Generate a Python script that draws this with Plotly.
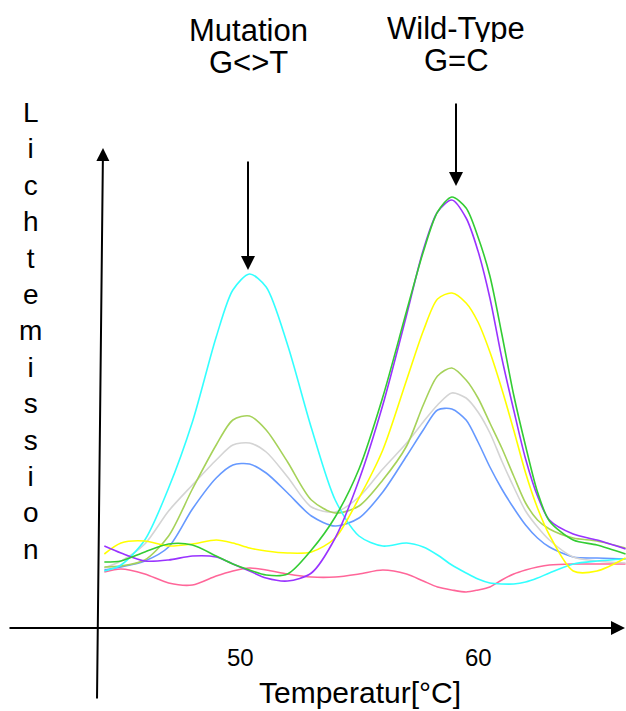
import plotly.graph_objects as go

# Temperature grid (°C)
temperature = [44.3, 45, 46, 47, 48, 49, 49.7, 50.4, 51.1, 52, 53, 54, 55, 56, 57,
               57.7, 58.3, 58.9, 59.5, 60, 60.5, 61, 61.5, 62, 62.5, 63, 64, 65, 66.2]

# Light emission (arbitrary units) per sample
cyan = [57, 63, 88, 140, 206, 291, 338, 354, 341, 283, 200, 128, 92, 82, 85,
        81, 73, 63, 55, 49, 45, 44, 44, 46, 50, 55, 64, 67, 69]
olive = [61, 62, 68, 92, 139, 183, 208, 212, 198, 166, 128, 115, 122, 148, 182,
         223, 252, 260, 248, 230, 205, 180, 152, 125, 108, 99, 90, 87, 80]
gray = [60, 67, 84, 117, 143, 168, 183, 185, 176, 151, 121, 116, 131, 159, 185,
        206, 223, 235, 230, 216, 195, 167, 141, 117, 101, 88, 71, 67, 65]
blue = [58, 61, 67, 81, 119, 150, 163, 164, 155, 135, 112, 102, 110, 136, 172,
        198, 218, 219, 208, 186, 161, 139, 120, 103, 90, 81, 71, 70, 69]
yellow = [74, 85, 87, 82, 84, 88, 85, 80, 77, 75, 76, 90, 130, 178, 248,
          297, 329, 335, 325, 306, 276, 239, 198, 155, 120, 93, 57, 57, 70]
green = [66, 67, 76, 84, 83, 72, 64, 58, 53, 54, 78, 111, 159, 231, 317,
         376, 416, 431, 420, 391, 352, 294, 233, 182, 136, 107, 88, 83, 74]
purple = [82, 75, 67, 68, 72, 71, 64, 57, 50, 47, 55, 90, 148, 223, 313,
          378, 416, 428, 410, 377, 330, 270, 218, 169, 132, 108, 94, 88, 79]
pink = [56, 59, 54, 45, 43, 52, 57, 60, 58, 54, 51, 51, 54, 58, 54,
        47, 41, 38, 36, 38, 41, 48, 54, 58, 61, 63, 64, 64, 64]

tick_values = [50, 60]
tick_labels = ["50", "60"]

series = [
    ("pink", pink, "#ff6699"),
    ("blue", blue, "#6699ff"),
    ("gray", gray, "#d4d4d4"),
    ("olive", olive, "#a6d25a"),
    ("cyan", cyan, "#33ffff"),
    ("yellow", yellow, "#ffff00"),
    ("purple", purple, "#9933ff"),
    ("green", green, "#33cc33"),
]

W, H = 626, 711
FONT = "Arial, Liberation Sans, sans-serif"

fig = go.Figure()
for name, vals, col in series:
    fig.add_trace(go.Scatter(x=temperature, y=vals, mode="lines", name=name,
                             line=dict(color=col, width=1.6, shape="spline", smoothing=0.8),
                             showlegend=False, hoverinfo="skip"))


def px_x(p):
    return p / W


def px_y(p):
    return 1 - p / H


annotations = []
# axes arrows
annotations.append(dict(x=px_x(626), y=px_y(628), xref="paper", yref="paper",
                        ax=-618, ay=0, showarrow=True, arrowhead=2, arrowsize=1.4,
                        arrowwidth=2, arrowcolor="black", text=""))
annotations.append(dict(x=px_x(103), y=px_y(148), xref="paper", yref="paper",
                        ax=-6, ay=552, showarrow=True, arrowhead=2, arrowsize=1.3,
                        arrowwidth=2, arrowcolor="black", text=""))
# peak arrows
annotations.append(dict(x=px_x(248), y=px_y(270), xref="paper", yref="paper",
                        ax=0, ay=-110, showarrow=True, arrowhead=2, arrowsize=1.4,
                        arrowwidth=2, arrowcolor="black", text=""))
annotations.append(dict(x=px_x(456), y=px_y(186), xref="paper", yref="paper",
                        ax=0, ay=-84, showarrow=True, arrowhead=2, arrowsize=1.4,
                        arrowwidth=2, arrowcolor="black", text=""))
# header texts
for txt, xp, yp in [("Mutation", 248, 30), ("G&lt;&gt;T", 248, 62),
                    ("Wild-Type", 456, 28), ("G=C", 456, 60)]:
    annotations.append(dict(x=px_x(xp), y=px_y(yp), xref="paper", yref="paper",
                            text=txt, showarrow=False, xanchor="center", yanchor="middle",
                            height=28, valign="middle", borderpad=0,
                            font=dict(family=FONT, size=31, color="black")))
# tick labels
for tv, tl in zip(tick_values, tick_labels):
    annotations.append(dict(x=tv, y=px_y(657), xref="x", yref="paper", text=tl,
                            showarrow=False, xanchor="center", yanchor="middle",
                            font=dict(family=FONT, size=24, color="black")))
# axis titles
annotations.append(dict(x=px_x(360), y=0, xref="paper", yref="paper",
                        text="Temperatur[°C]", showarrow=False, xanchor="center",
                        yanchor="bottom", yshift=0,
                        font=dict(family=FONT, size=30, color="black")))
annotations.append(dict(x=px_x(30), y=px_y(331), xref="paper", yref="paper",
                        text="<br>".join(list("Lichtemission")), showarrow=False,
                        xanchor="center", yanchor="middle", align="center",
                        font=dict(family=FONT, size=28, color="black")))

x0 = 50 + (0 - 240) / 23.8
x1 = 50 + (W - 240) / 23.8
fig.update_layout(
    width=W, height=H,
    margin=dict(l=0, r=0, t=0, b=0),
    paper_bgcolor="white", plot_bgcolor="white",
    xaxis=dict(range=[x0, x1], visible=False, fixedrange=True),
    yaxis=dict(range=[628 - H, 628], visible=False, fixedrange=True),
    annotations=annotations,
    showlegend=False,
)
fig.write_html("out.html")
